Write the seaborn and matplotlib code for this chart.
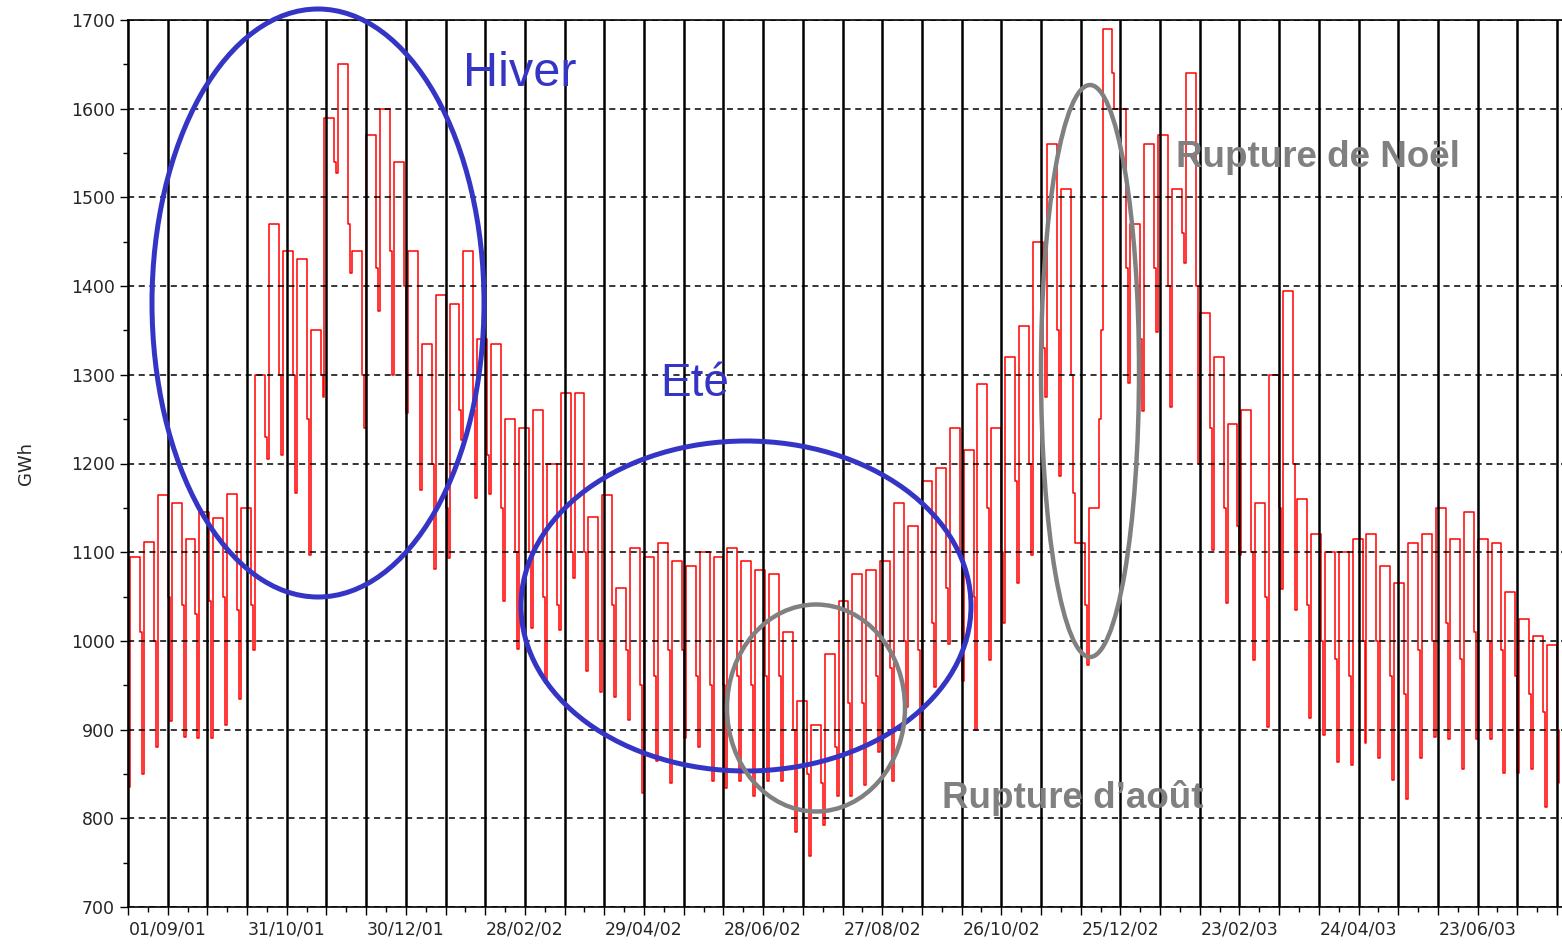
import pandas as pd
import seaborn as sns
import matplotlib.pyplot as plt
from matplotlib.patches import Ellipse

# Consommation journalière (GWh), lue semaine par semaine sur le graphique
start = pd.Timestamp("2001-08-12")  # dimanche
first_sunday = 835

# valeur des jours ouvrés, du samedi et du dimanche pour chaque semaine
weekday_high = [1095, 1112, 1165, 1155, 1115, 1145, 1138, 1166, 1150, 1300,
                1470, 1440, 1430, 1350, 1590, 1650, 1440, 1570, 1600, 1540,
                1440, 1335, 1390, 1380, 1440, 1340, 1335, 1250, 1240, 1260,
                1200, 1280, 1280, 1140, 1165, 1060, 1105, 1095, 1110, 1090,
                1085, 1100, 1095, 1105, 1090, 1080, 1075, 1010, 932, 905,
                985, 1045, 1075, 1080, 1090, 1155, 1130, 1180, 1195, 1240,
                1215, 1290, 1240, 1320, 1355, 1450, 1560, 1510, 1110, 1150,
                1690, 1600, 1470, 1560, 1570, 1510, 1640, 1370, 1320, 1245,
                1260, 1155, 1300, 1395, 1160, 1120, 1100, 1100, 1115, 1120,
                1085, 1065, 1110, 1120, 1150, 1115, 1145, 1115, 1110, 1055,
                1025, 1005, 995]
saturday = [1010, 1000, 1050, 1040, 1030, 1045, 1050, 1035, 1040, 1230,
            1300, 1300, 1250, 1300, 1540, 1470, 1300, 1420, 1440, 1400,
            1300, 1200, 1150, 1260, 1260, 1210, 1150, 1100, 1100, 1050,
            1040, 1100, 1100, 1000, 1040, 990, 950, 960, 990, 990,
            960, 950, 950, 960, 950, 960, 960, 900, 850, 840,
            880, 930, 930, 960, 970, 1000, 990, 1020, 1060, 1100,
            1050, 1150, 1100, 1180, 1200, 1330, 1350, 1300, 1040, 1250,
            1640, 1420, 1340, 1420, 1400, 1460, 1400, 1240, 1150, 1130,
            1100, 1050, 1150, 1200, 1040, 1000, 980, 960, 1000, 1000,
            960, 940, 990, 1000, 1020, 980, 1010, 1000, 990, 960,
            940, 920, 900]
sunday = [850, 880, 910, 892, 890, 890, 905, 934, 990, 1205,
          1210, 1167, 1097, 1275, 1527, 1415, 1240, 1372, 1300, 1257,
          1170, 1081, 1094, 1226, 1161, 1166, 1045, 991, 1014, 953,
          1012, 1071, 966, 942, 937, 911, 829, 865, 840, 891,
          880, 842, 834, 842, 825, 842, 842, 784, 758, 792,
          825, 825, 838, 875, 842, 925, 900, 948, 996, 955,
          900, 978, 1020, 1065, 1097, 1275, 1186, 1167, 973, 1350,
          1600, 1291, 1259, 1348, 1264, 1426, 1200, 1103, 1043, 1097,
          978, 903, 1059, 1035, 913, 894, 864, 860, 885, 868,
          843, 822, 868, 892, 889, 856, 889, 889, 851, 851,
          856, 813, 840]

dates = [start]
values = [first_sunday]
for k in range(len(weekday_high)):
    monday = start + pd.Timedelta(days=1 + 7 * k)
    dates += [monday, monday + pd.Timedelta(days=5), monday + pd.Timedelta(days=6)]
    values += [weekday_high[k], saturday[k], sunday[k]]
df = pd.DataFrame({"date": dates, "GWh": values})

sns.set_style("ticks")
plt.rcParams["font.family"] = ["DejaVu Sans"]

W, H = 1562, 944
fig = plt.figure(figsize=(W / 100, H / 100), dpi=100)
ax = fig.add_axes([128 / W, 37 / H, (W - 128) / W, 887 / H])

sns.lineplot(data=df, x="date", y="GWh", ax=ax, color="#ff0000", lw=1.1,
             drawstyle="steps-post")

# axes
grid_days = pd.date_range(start, periods=37, freq="20D")
ax.set_xticks(grid_days)
ax.set_xticklabels([d.strftime("%d/%m/%y") if i % 3 == 1 else ""
                    for i, d in enumerate(grid_days)])
ax.set_xticks(grid_days + pd.Timedelta(days=10), minor=True)
ax.set_xlim(start, start + pd.Timedelta(days=722.5))
ax.set_ylim(700, 1700)
ax.set_yticks(range(700, 1701, 100))
ax.set_yticks(range(750, 1700, 100), minor=True)
ax.set_xlabel("")
ax.set_ylabel("GWh", fontsize=13)
ax.yaxis.set_label_coords(-0.065, 0.5)

ax.tick_params(which="major", length=6, width=1, labelsize=12.5, color="black")
ax.tick_params(which="minor", length=3.5, width=1, color="black")
ax.xaxis.grid(True, which="major", color="black", lw=1.8, ls="-")
ax.yaxis.grid(True, which="major", color="black", lw=1.1, ls=(0, (4, 3)))
ax.set_axisbelow(False)
for s in ["left", "bottom", "top"]:
    ax.spines[s].set_color("black")
    ax.spines[s].set_linewidth(1.2)
ax.spines["right"].set_visible(False)

# annotations (en pixels de la figure)
blue = "#3535c5"
grey = "#808080"


def ellipse(cx, cy, w, h, color, lw):
    e = Ellipse((cx / W, 1 - cy / H), w / W, h / H, transform=fig.transFigure,
                fill=False, edgecolor=color, lw=lw, clip_on=False, zorder=5)
    fig.add_artist(e)


ellipse(318, 303, 332, 588, blue, 3.6)
ellipse(746, 606, 450, 330, blue, 3.6)
ellipse(816, 708, 178, 207, grey, 3.2)
ellipse(1090, 371, 98, 572, grey, 3.2)

font = ["Liberation Sans", "DejaVu Sans"]
fig.text(463 / W, 1 - 86 / H, "Hiver", color=blue, fontsize=35, family=font, va="baseline")
fig.text(660 / W, 1 - 396 / H, "Eté", color=blue, fontsize=33, family=font, va="baseline")
fig.text(1176 / W, 1 - 167 / H, "Rupture de Noël", color=grey, fontsize=26.5,
         fontweight="bold", family=font, va="baseline")
fig.text(942 / W, 1 - 808 / H, "Rupture d\u2019août", color=grey, fontsize=26.5,
         fontweight="bold", family=font, va="baseline")

fig.savefig("out.png", dpi=100)
